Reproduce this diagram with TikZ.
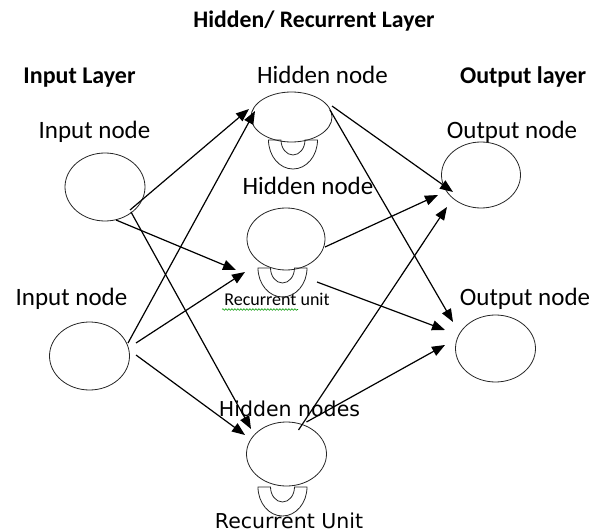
\documentclass[tikz,border=0pt]{standalone}
\usepackage{fontspec}
\setmainfont{Carlito}
\newfontfamily\dejavu{DejaVu Sans}
\usetikzlibrary{arrows.meta,decorations.pathmorphing,shapes.geometric}
\begin{document}
\begin{tikzpicture}[x=1pt,y=1pt,
  unit/.style={draw=black!85, line width=0.8pt, ellipse, inner sep=0pt},
  arr/.style={-{Triangle[length=13pt,width=10pt]}, line width=1.2pt},
  lbl/.style={anchor=base, inner sep=0pt, font=\fontsize{25}{28}\selectfont},
  blbl/.style={anchor=base, inner sep=0pt, font=\fontsize{24}{28}\selectfont\bfseries},
  slbl/.style={anchor=base, inner sep=0pt, font=\fontsize{18}{20}\selectfont},
  dlbl/.style={anchor=base, inner sep=0pt, font=\dejavu\fontsize{20.5}{24}\selectfont},
  recunit/.pic={\draw[draw=black!85, line width=0.8pt]
     (-24.5pt,0pt) -- (-12pt,0pt) arc[start angle=180,end angle=360,x radius=12pt,y radius=15pt]
     -- (24.5pt,0pt) arc[start angle=0,end angle=-180,x radius=24.5pt,y radius=29pt] -- cycle;}
]
\useasboundingbox (0,0) rectangle (603,-532);

% titles
\node[blbl, font=\fontsize{23.7}{28}\selectfont\bfseries] (title) at (314,-28) {Hidden/ Recurrent Layer};
\node[blbl] (tin) at (79.5,-84) {Input Layer};
\node[lbl] (th1) at (322.5,-84) {Hidden node};
\node[blbl] (tout) at (523,-84) {Output layer};
\node[lbl] (tin1) at (94.5,-138.5) {Input node};
\node[lbl] (tout1) at (512,-138.5) {Output node};
\node[lbl] (th2) at (308,-195) {Hidden node};
\node[slbl] (tr2) at (277,-305.5) {Recurrent unit};
\node[lbl] (tin2) at (71.5,-305) {Input node};
\node[lbl] (tout2) at (525,-305) {Output node};
\node[dlbl] (th3) at (289.5,-416.7) {Hidden nodes};
\node[dlbl] (tr3) at (289,-528) {Recurrent Unit};
\draw[green!60!black, line width=0.6pt, decorate, decoration={snake, amplitude=0.8pt, segment length=3pt}]
  (222,-309.5) -- (298,-309.5);

% nodes
\node[unit, minimum width=80pt, minimum height=68pt] (in1) at (105,-187) {};
\node[unit, minimum width=80pt, minimum height=68pt] (in2) at (89.5,-356) {};
\node[unit, minimum width=81pt, minimum height=50pt] (h1) at (291.5,-117) {};
\node[unit, minimum width=78pt, minimum height=62pt] (h2) at (286,-239) {};
\node[unit, minimum width=80pt, minimum height=64pt] (h3) at (286.5,-454) {};
\node[unit, minimum width=79pt, minimum height=66pt] (out1) at (481,-175) {};
\node[unit, minimum width=80pt, minimum height=67pt] (out2) at (495.5,-348.5) {};

% recurrent units
\pic (r1) at (293,-140) {recunit};
\pic (r2) at (282.5,-268) {recunit};
\pic (r3) at (282.5,-487) {recunit};

% connectors
\draw[arr] ([shift={(25,-23)}]in1.center) -- ([shift={(-42.5,8)}]h1.center);
\draw[arr] ([shift={(11,-33)}]in1.center) -- ([shift={(-50,-31)}]h2.center);
\draw[arr] ([shift={(26,-25)}]in1.center) -- ([shift={(-35.5,25)}]h3.center);
\draw[arr] ([shift={(38.5,13)}]in2.center) -- ([shift={(-36.5,6)}]h1.center);
\draw[arr] ([shift={(46.5,13)}]in2.center) -- ([shift={(-41,-33)}]h2.center);
\draw[arr] ([shift={(46.5,1)}]in2.center) -- ([shift={(-41.5,19)}]h3.center);
\draw[arr] ([shift={(40.5,11)}]h1.center) -- ([shift={(-28,-17)}]out1.center);
\draw[arr] ([shift={(38.5,7)}]h1.center) -- ([shift={(-42.5,26.5)}]out2.center);
\draw[arr] ([shift={(39,-8)}]h2.center) -- ([shift={(-43,-20)}]out1.center);
\draw[arr] ([shift={(31,-43)}]h2.center) -- ([shift={(-50.5,18.5)}]out2.center);
\draw[arr] ([shift={(12,24)}]h3.center) -- ([shift={(-34,-32)}]out1.center);
\draw[arr] ([shift={(20,32)}]h3.center) -- ([shift={(-50.5,3.5)}]out2.center);
\end{tikzpicture}
\end{document}
